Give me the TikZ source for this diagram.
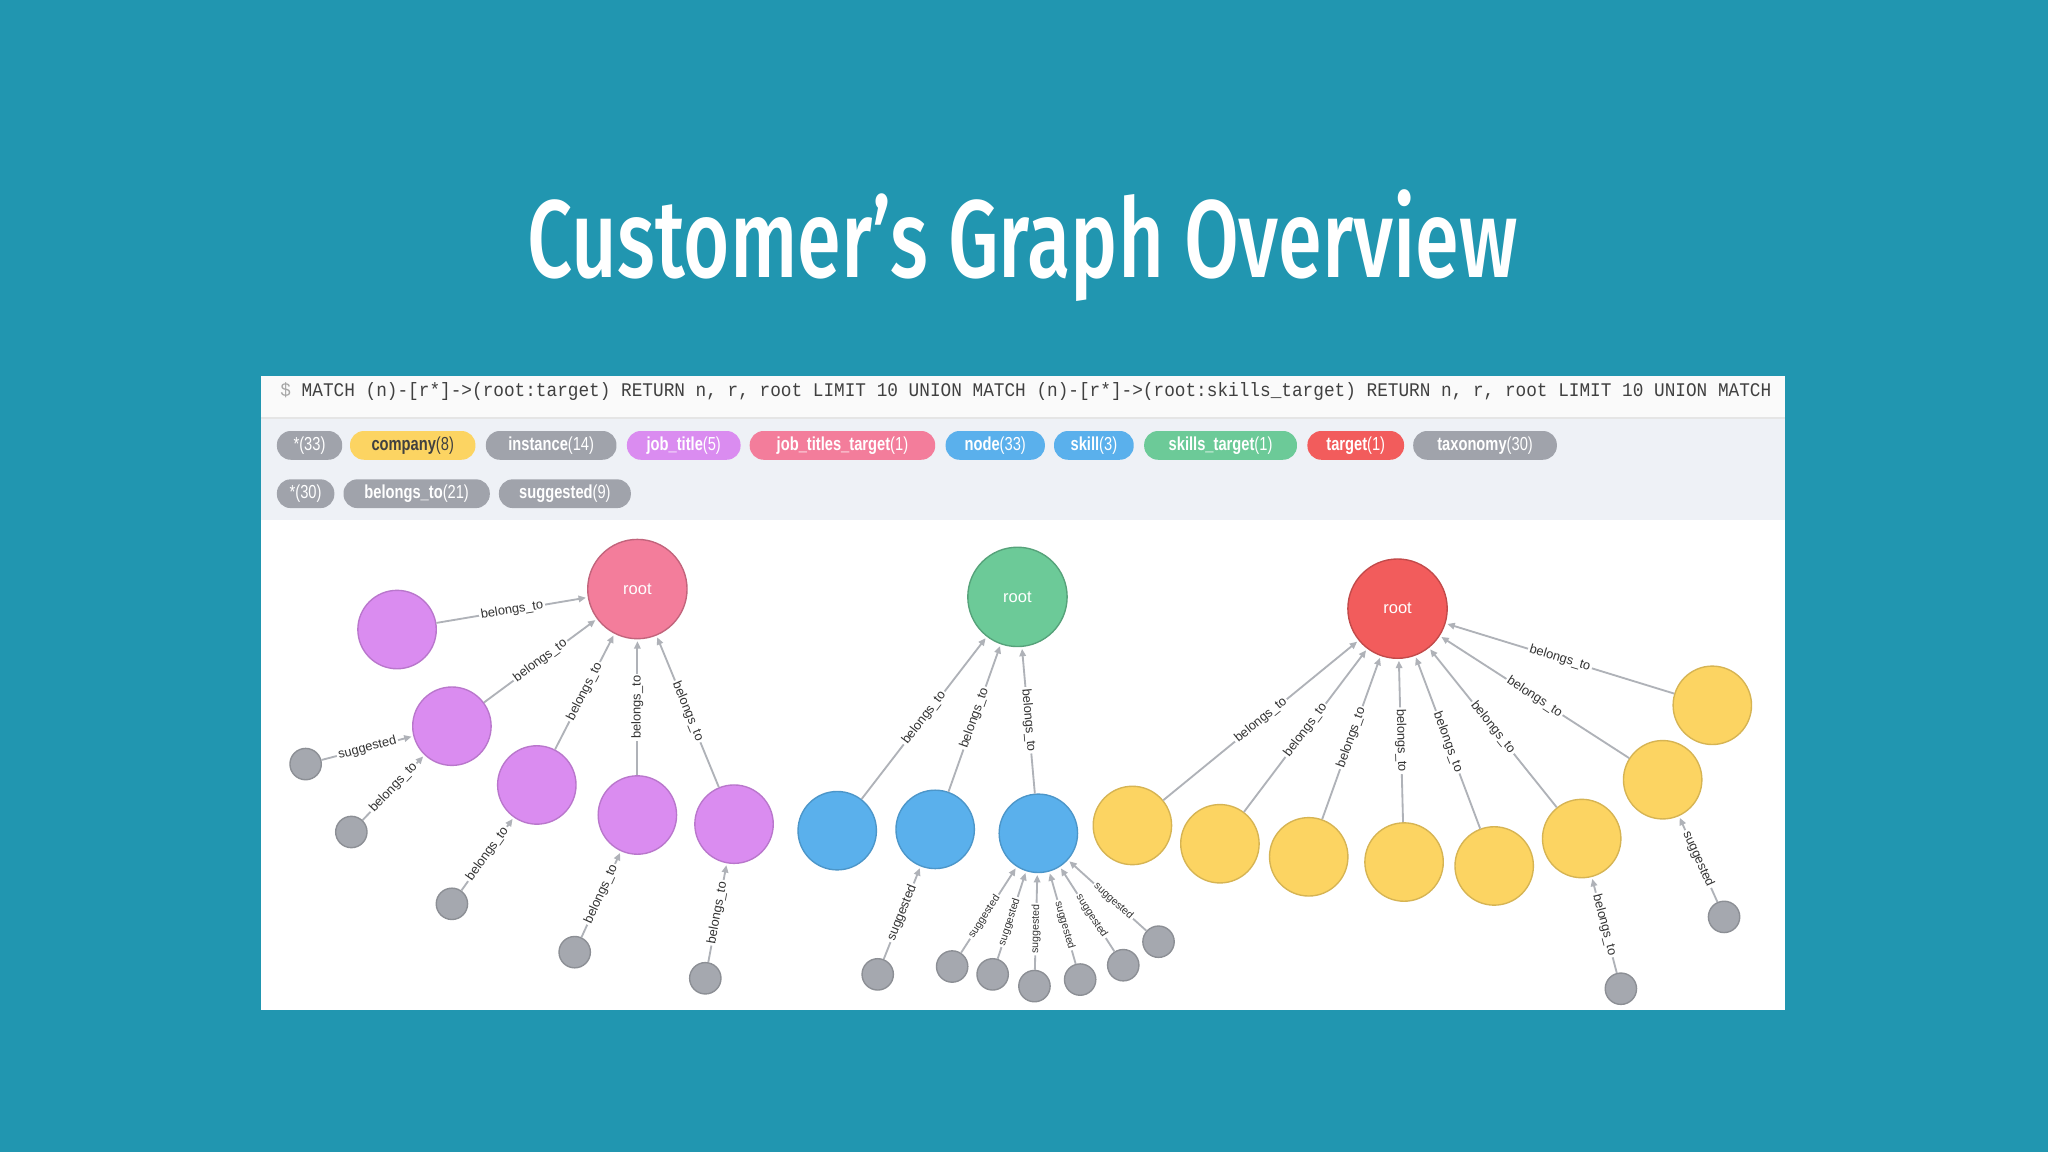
\documentclass[tikz,border=0pt]{standalone}
\usepackage{fontspec}
\setmainfont{Liberation Sans}
\newfontfamily\titlefont[FakeStretch=0.72]{Fira Sans Medium}
\newfontfamily\cond[FakeStretch=0.78]{Liberation Sans}
\newfontfamily\codefont[FakeStretch=0.92]{Liberation Mono}
\usetikzlibrary{arrows.meta}
\definecolor{bgteal}{RGB}{33,150,176}
\definecolor{pillgray}{RGB}{160,163,171}
\definecolor{cyel}{RGB}{252,212,98}
\definecolor{cpurp}{RGB}{218,140,240}
\definecolor{cpink}{RGB}{243,125,155}
\definecolor{cblue}{RGB}{90,176,236}
\definecolor{cgreen}{RGB}{108,202,152}
\definecolor{cred}{RGB}{242,92,92}
\definecolor{cgray}{RGB}{165,168,175}
\definecolor{edgegray}{RGB}{175,178,184}
\definecolor{pillbg}{RGB}{238,241,246}
\tikzset{
  big/.style={circle,inner sep=0pt,minimum size=0.76cm,fill=#1,draw=#1!80!black,line width=0.3pt,text=white,font=\fontsize{3.6}{4}\selectfont},
  mid/.style={circle,inner sep=0pt,minimum size=0.6cm,fill=#1,draw=#1!85!black,line width=0.3pt},
  sm/.style={circle,inner sep=0pt,minimum size=0.24cm,fill=cgray,draw=cgray!85!black,line width=0.3pt},
  edge/.style={draw=edgegray,line width=0.4pt,-{Triangle[length=1.6pt,width=1.4pt]},shorten >=0.4pt},
  elab/.style={sloped,fill=white,inner sep=0.4pt,font=\fontsize{2.8}{3}\selectfont,text=black!80},
  fanlab/.style={elab,font=\fontsize{2.3}{2.5}\selectfont,pos=0.42},
  pilltext/.style={font=\cond\fontsize{4.1}{5}\selectfont,text=white}
}
\begin{document}
\begin{tikzpicture}[x=0.01cm,y=-0.01cm]
\useasboundingbox (0,0) rectangle (1568,882);
\fill[bgteal] (0,0) rectangle (1568,882);
\node[text=white,font=\titlefont\fontsize{24}{28}\selectfont] (title) at (783,188) {Customer’s Graph Overview};
% panel
\fill[white] (200,288) rectangle (1367,773);
\fill[black!2] (200,288) rectangle (1367,320);
\fill[pillbg] (200,320) rectangle (1367,398);
\draw[black!10,line width=0.3pt] (200,320) -- (1367,320);
\node[anchor=west,inner sep=0pt,font=\codefont\fontsize{4.2}{5}\selectfont,text=black!75] (code) at (214,300) {{\color{black!35}\$} MATCH (n)-[r*]->(root:target) RETURN n, r, root LIMIT 10 UNION MATCH (n)-[r*]->(root:skills\_target) RETURN n, r, root LIMIT 10 UNION MATCH};
% pills
\foreach \a/\b/\c/\n/\k/\y/\tc in {
 212/262/pillgray/{}/*(33)/341/white,
 268/364/cyel/company/(8)/341/black!75,
 372/472/pillgray/instance/(14)/341/white,
 480/567/cpurp/job\_title/(5)/341/white,
 574/716/cpink/job\_titles\_target/(1)/341/white,
 724/800/cblue/node/(33)/341/white,
 807/868/cblue/skill/(3)/341/white,
 876/993/cgreen/skills\_target/(1)/341/white,
 1001/1075/cred/target/(1)/341/white,
 1082/1192/pillgray/taxonomy/(30)/341/white,
 212/256/pillgray/{}/*(30)/378/white,
 263/375/pillgray/belongs\_to/(21)/378/white,
 382/483/pillgray/suggested/(9)/378/white}{
  \fill[rounded corners=3pt,fill=\c] (\a,\y-11) rectangle (\b,\y+11);
  \node[pilltext,text=\tc] at ({(\a+\b)/2},\y) {\textbf{\n}\k};
}
% left cluster
\node[big=cpink] (rA) at (488,451) {root};
\node[mid=cpurp] (p1) at (304,482) {};
\node[mid=cpurp] (p2) at (346,556) {};
\node[mid=cpurp] (p3) at (411,601) {};
\node[mid=cpurp] (p4) at (488,624) {};
\node[mid=cpurp] (p5) at (562,631) {};
\node[sm] (g1) at (234,585) {};
\node[sm] (g2) at (269,637) {};
\node[sm] (g3) at (346,692) {};
\node[sm] (g4) at (440,729) {};
\node[sm] (g5) at (540,749) {};
\foreach \s in {p1,p2,p3,p4,p5} \draw[edge] (\s) -- node[elab]{belongs\_to} (rA);
\draw[edge] (g1) -- node[elab]{suggested} (p2);
\draw[edge] (g2) -- node[elab]{belongs\_to} (p2);
\draw[edge] (g3) -- node[elab]{belongs\_to} (p3);
\draw[edge] (g4) -- node[elab]{belongs\_to} (p4);
\draw[edge] (g5) -- node[elab]{belongs\_to} (p5);
% middle cluster
\node[big=cgreen] (rB) at (779,457) {root};
\node[mid=cblue] (b1) at (641,636) {};
\node[mid=cblue] (b2) at (716,635) {};
\node[mid=cblue] (b3) at (795,638) {};
\foreach \s in {b1,b2,b3} \draw[edge] (\s) -- node[elab]{belongs\_to} (rB);
\node[sm] (h1) at (672,746) {};
\node[sm] (h2) at (729,740) {};
\node[sm] (h3) at (760,746) {};
\node[sm] (h4) at (792,755) {};
\node[sm] (h5) at (827,750) {};
\node[sm] (h6) at (860,739) {};
\node[sm] (h7) at (887,721) {};
\draw[edge] (h1) -- node[elab]{suggested} (b2);
\foreach \s in {h2,h3,h4,h5,h6,h7} \draw[edge] (\s) -- node[fanlab]{suggested} (b3);
% right cluster
\node[big=cred] (rC) at (1070,466) {root};
\node[mid=cyel] (y1) at (867,632) {};
\node[mid=cyel] (y2) at (934,646) {};
\node[mid=cyel] (y3) at (1002,656) {};
\node[mid=cyel] (y4) at (1075,660) {};
\node[mid=cyel] (y5) at (1144,663) {};
\node[mid=cyel] (y6) at (1211,642) {};
\node[mid=cyel] (y7) at (1273,597) {};
\node[mid=cyel] (y8) at (1311,540) {};
\foreach \s in {y1,y2,y3,y4,y5,y6,y7,y8} \draw[edge] (\s) -- node[elab]{belongs\_to} (rC);
\node[sm] (k1) at (1241,757) {};
\node[sm] (k2) at (1320,702) {};
\draw[edge] (k1) -- node[elab]{belongs\_to} (y6);
\draw[edge] (k2) -- node[elab]{suggested} (y7);
\end{tikzpicture}
\end{document}
